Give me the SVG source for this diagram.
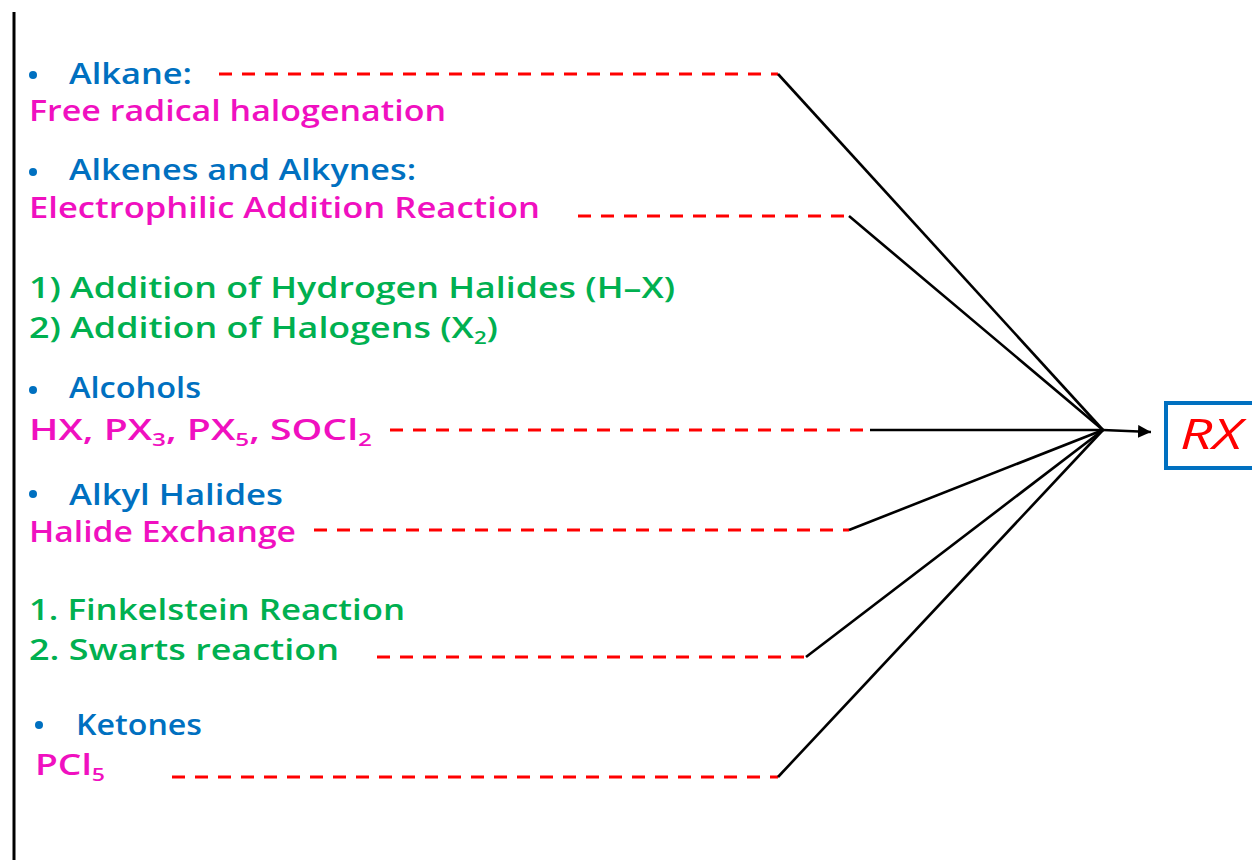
<svg xmlns="http://www.w3.org/2000/svg" width="1252" height="860" viewBox="0 0 1252 860">
<defs>
<style>
text{font-family:"Open Sans","Noto Sans",sans-serif;font-size:29px;font-weight:600;}
.b{fill:#0070C0;}
.m{fill:#F010C0;}
.g{fill:#00B050;}
.sub{font-size:18px;}
.dash{stroke:#FF0000;stroke-width:3;stroke-dasharray:13 10;fill:none;}
.conn{stroke:#000;stroke-width:2.6;fill:none;}
</style>
<marker id="ah" viewBox="0 0 10 10" refX="10" refY="5" markerWidth="5" markerHeight="5" orient="auto" markerUnits="strokeWidth">
<path d="M0,0 L10,5 L0,10 z" fill="#000"/>
</marker>
</defs>
<rect width="1252" height="860" fill="#fff"/>
<line x1="14" y1="12" x2="14" y2="860" stroke="#000" stroke-width="3"/>

<g id="alkane">
<circle cx="33" cy="75" r="4" fill="#0070C0"/>
<text class="b" x="69" y="84" textLength="123" lengthAdjust="spacingAndGlyphs">Alkane:</text>
<text class="m" x="29" y="121" textLength="417" lengthAdjust="spacingAndGlyphs">Free radical halogenation</text>
</g>
<g id="alkenes">
<circle cx="33" cy="172" r="4" fill="#0070C0"/>
<text class="b" x="69" y="180" textLength="347" lengthAdjust="spacingAndGlyphs">Alkenes and Alkynes:</text>
<text class="m" x="29" y="218" textLength="511" lengthAdjust="spacingAndGlyphs">Electrophilic Addition Reaction</text>
<text class="g" x="29" y="298" textLength="646" lengthAdjust="spacingAndGlyphs">1) Addition of Hydrogen Halides (H–X)</text>
<text class="g" x="29" y="338" textLength="469" lengthAdjust="spacingAndGlyphs">2) Addition of Halogens (X<tspan class="sub" dy="6">2</tspan><tspan dy="-6">)</tspan></text>
</g>
<g id="alcohols">
<circle cx="33" cy="390" r="4" fill="#0070C0"/>
<text class="b" x="69" y="398" textLength="132" lengthAdjust="spacingAndGlyphs">Alcohols</text>
<text class="m" x="29" y="440" textLength="343" lengthAdjust="spacingAndGlyphs">HX, PX<tspan class="sub" dy="6">3</tspan><tspan dy="-6">, PX</tspan><tspan class="sub" dy="6">5</tspan><tspan dy="-6">, SOCl</tspan><tspan class="sub" dy="6">2</tspan></text>
</g>
<g id="alkylhalides">
<circle cx="33" cy="494" r="4" fill="#0070C0"/>
<text class="b" x="69" y="505" textLength="214" lengthAdjust="spacingAndGlyphs">Alkyl Halides</text>
<text class="m" x="29" y="542" textLength="267" lengthAdjust="spacingAndGlyphs">Halide Exchange</text>
<text class="g" x="29" y="620" textLength="376" lengthAdjust="spacingAndGlyphs">1.  Finkelstein Reaction</text>
<text class="g" x="29" y="660" textLength="310" lengthAdjust="spacingAndGlyphs">2.  Swarts reaction</text>
</g>
<g id="ketones">
<circle cx="39" cy="725" r="4" fill="#0070C0"/>
<text class="b" x="76" y="735" textLength="126" lengthAdjust="spacingAndGlyphs">Ketones</text>
<text class="m" x="35" y="775" textLength="70" lengthAdjust="spacingAndGlyphs">PCl<tspan class="sub" dy="6">5</tspan></text>
</g>
<g id="rx">
<rect x="1166" y="403" width="100" height="65" fill="#fff" stroke="#0070C0" stroke-width="4"/>
<text x="1180" y="449" fill="#FF0000" font-style="italic" style="font-size:42px;font-weight:400" textLength="62" lengthAdjust="spacingAndGlyphs">RX</text>
</g>

<g id="connectors">
<line class="dash" x1="219" y1="74" x2="778" y2="74"/>
<line class="dash" x1="578" y1="216" x2="849" y2="216"/>
<line class="dash" x1="390" y1="430" x2="870" y2="430"/>
<line class="dash" x1="314" y1="530" x2="849" y2="530"/>
<line class="dash" x1="377" y1="657" x2="806" y2="657"/>
<line class="dash" x1="172" y1="777" x2="778" y2="777"/>
<line class="conn" x1="778" y1="74" x2="1103" y2="430"/>
<line class="conn" x1="849" y1="216" x2="1103" y2="430"/>
<line class="conn" x1="870" y1="430" x2="1103" y2="430"/>
<line class="conn" x1="849" y1="530" x2="1103" y2="430"/>
<line class="conn" x1="806" y1="657" x2="1103" y2="430"/>
<line class="conn" x1="778" y1="777" x2="1103" y2="430"/>
<line class="conn" x1="1103" y1="430" x2="1151" y2="432" marker-end="url(#ah)"/>
</g>
</svg>
